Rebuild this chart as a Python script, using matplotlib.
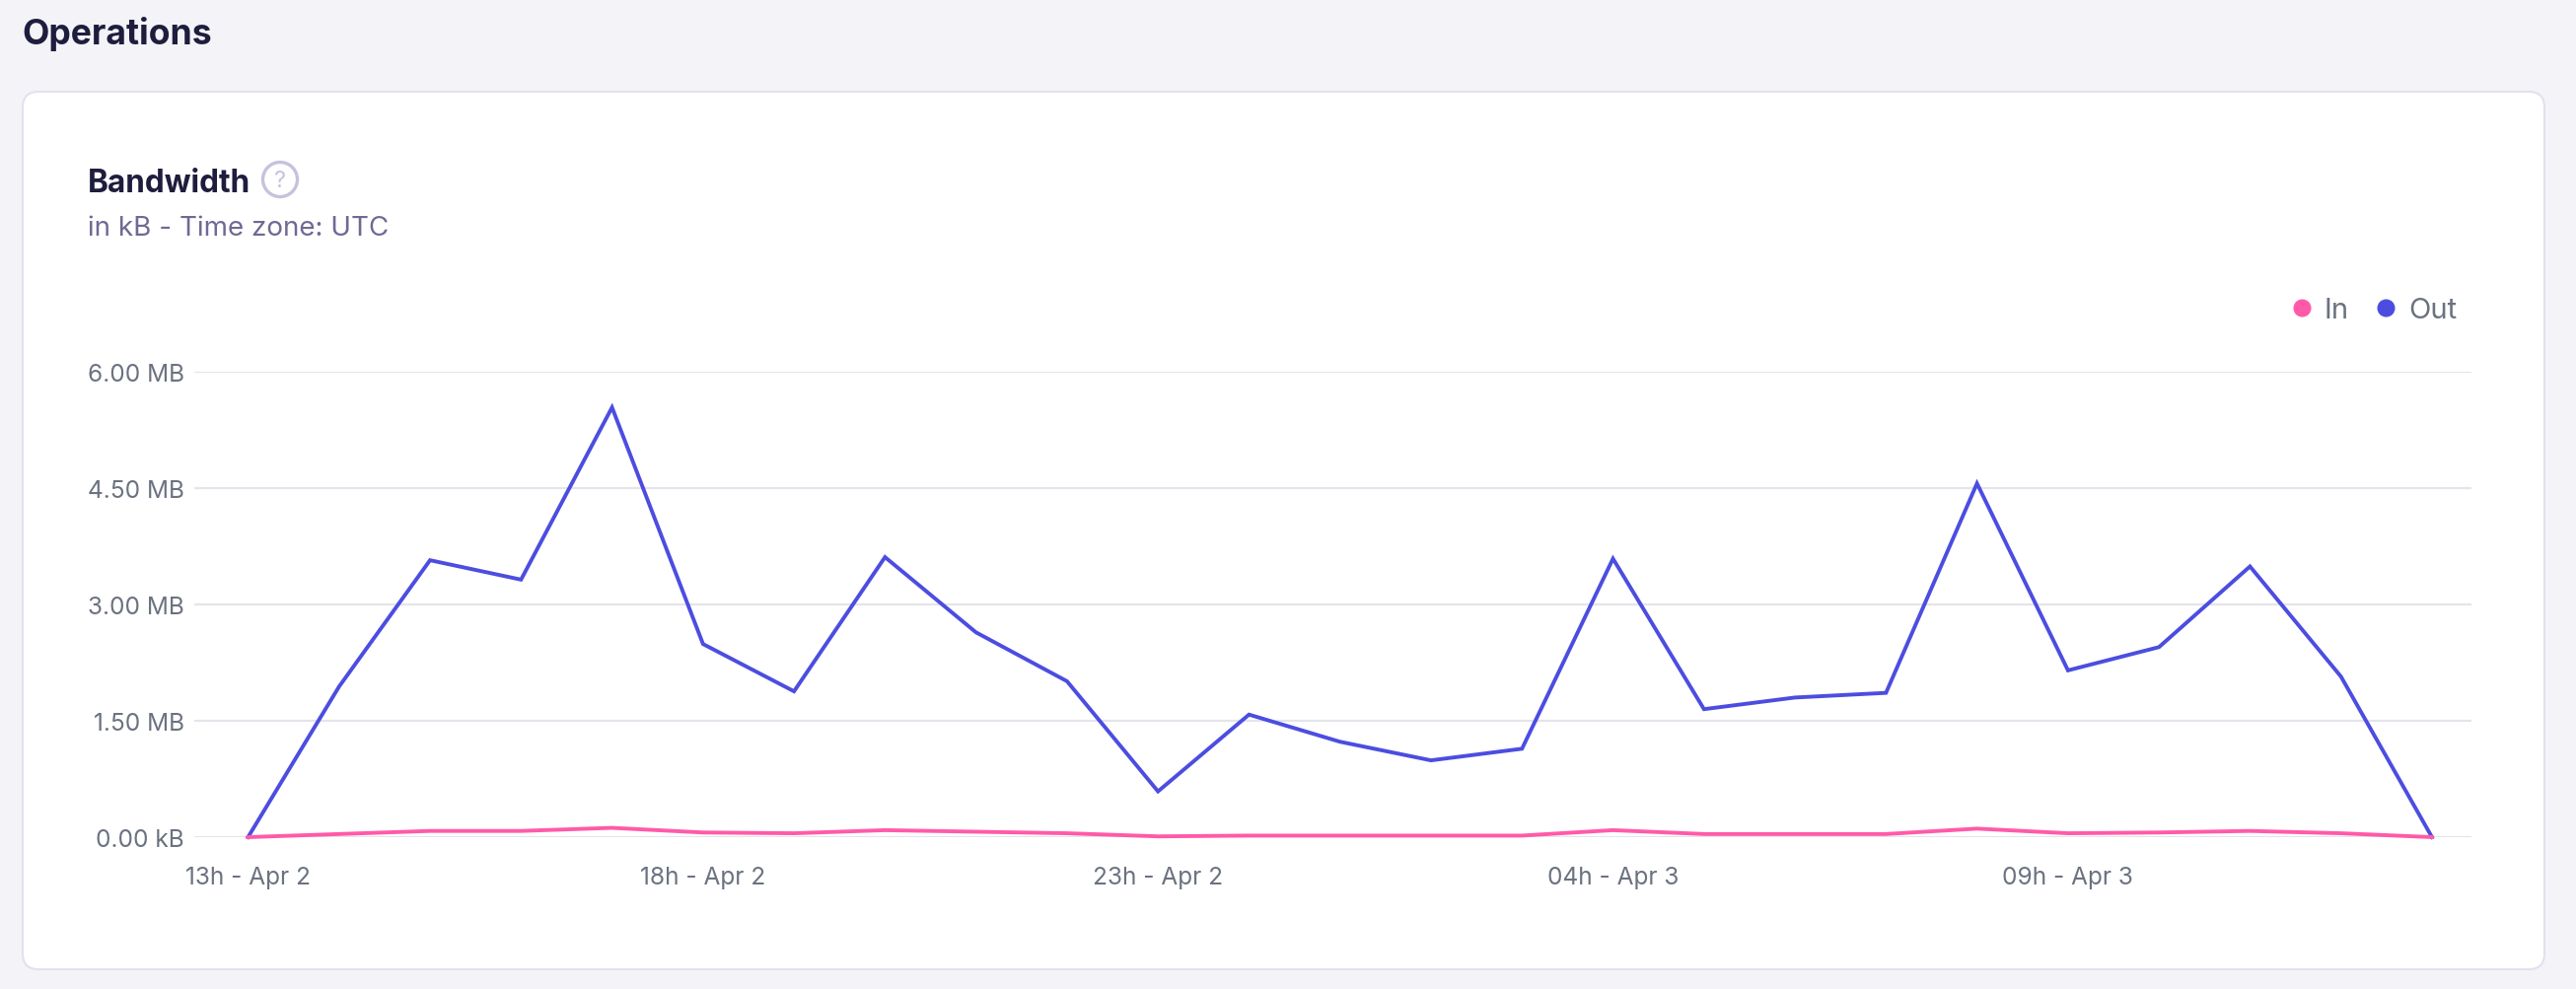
import matplotlib.pyplot as plt
from matplotlib.patches import FancyBboxPatch, Circle
from matplotlib.lines import Line2D

plt.rcParams['font.family'] = ['Inter', 'DejaVu Sans']

# hourly points, 13h Apr 2 -> 13h Apr 3 (values in MB)
hours = list(range(25))
out_mb = [0.00, 1.94, 3.57, 3.32, 5.54, 2.49, 1.88, 3.61, 2.64, 2.01, 0.59, 1.58, 1.23,
          0.99, 1.14, 3.59, 1.65, 1.80, 1.86, 4.56, 2.15, 2.45, 3.49, 2.07, 0.00]
in_mb = [0.00, 0.04, 0.08, 0.08, 0.12, 0.06, 0.05, 0.09, 0.07, 0.05, 0.01, 0.02, 0.02,
         0.02, 0.02, 0.09, 0.04, 0.04, 0.04, 0.11, 0.05, 0.06, 0.08, 0.05, 0.00]

x_tick_pos = [0, 5, 10, 15, 20]
x_tick_labels = ['13h - Apr 2', '18h - Apr 2', '23h - Apr 2', '04h - Apr 3', '09h - Apr 3']
y_tick_pos = [0, 1.5, 3.0, 4.5, 6.0]
y_tick_labels = ['0.00 kB', '1.50 MB', '3.00 MB', '4.50 MB', '6.00 MB']

W, H = 2612, 1004
fig = plt.figure(figsize=(W / 100, H / 100), dpi=100)
fig.patch.set_facecolor('#f3f3f8')

# background layer in pixel coordinates (card, titles, help icon)
bg = fig.add_axes([0, 0, 1, 1], zorder=-1)
bg.set_xlim(0, W)
bg.set_ylim(H, 0)
bg.axis('off')

card = FancyBboxPatch((23, 94), 2580 - 23, 984 - 94,
                      boxstyle='round,pad=0,rounding_size=16',
                      facecolor='white', edgecolor='#e2e1ee', linewidth=1.5)
bg.add_patch(card)

bg.text(22, 45, 'Operations', fontsize=25.6, fontweight='bold', color='#1f1d3d', va='baseline')
bg.text(89, 195, 'Bandwidth', fontsize=22.7, fontweight='bold', color='#1f1d3d', va='baseline')
bg.text(89, 239, 'in kB - Time zone: UTC', fontsize=20, color='#6e6a93', va='baseline')

bg.add_patch(Circle((284, 183), 17.5, facecolor='none', edgecolor='#c5c2dd', linewidth=2.4))
bg.text(284, 184, '?', fontsize=17, color='#c5c2dd', ha='center', va='center')

# chart
ax = fig.add_axes([196.6 / W, 1 - 850 / H, (2506 - 196.6) / W, (850 - 378) / H])
ax.set_facecolor('none')

ax.plot(hours, out_mb, color='#4c4de0', linewidth=2.8, solid_joinstyle='miter', clip_on=False, zorder=3)
ax.plot(hours, in_mb, color='#ff5aa8', linewidth=2.8, clip_on=False, zorder=4)

ax.set_xlim(-0.595, 24.434)
ax.set_ylim(0, 6)
ax.set_yticks(y_tick_pos)
ax.set_yticklabels(y_tick_labels)
ax.set_xticks(x_tick_pos)
ax.set_xticklabels(x_tick_labels)
ax.tick_params(length=0, labelsize=17.6, labelcolor='#6b7280')
ax.tick_params(axis='y', pad=7)
ax.tick_params(axis='x', pad=21)

ax.grid(axis='y', color='#e4e4ec', linewidth=1.6)
ax.set_axisbelow(True)
for s in ax.spines.values():
    s.set_visible(False)

handles = [Line2D([], [], linestyle='none', marker='o', markersize=12, color='#ff5aa8'),
           Line2D([], [], linestyle='none', marker='o', markersize=12, color='#4c4de0')]
leg = ax.legend(handles, ['In', 'Out'], ncol=2, frameon=False, loc='center right',
                bbox_to_anchor=(2491 / W, 1 - 316 / H), bbox_transform=fig.transFigure,
                borderpad=0, borderaxespad=0, handlelength=0.7, handletextpad=0.45,
                columnspacing=0.9, fontsize=21)
for t in leg.get_texts():
    t.set_color('#6b7280')

fig.savefig('out.png', dpi=100, facecolor=fig.get_facecolor())
